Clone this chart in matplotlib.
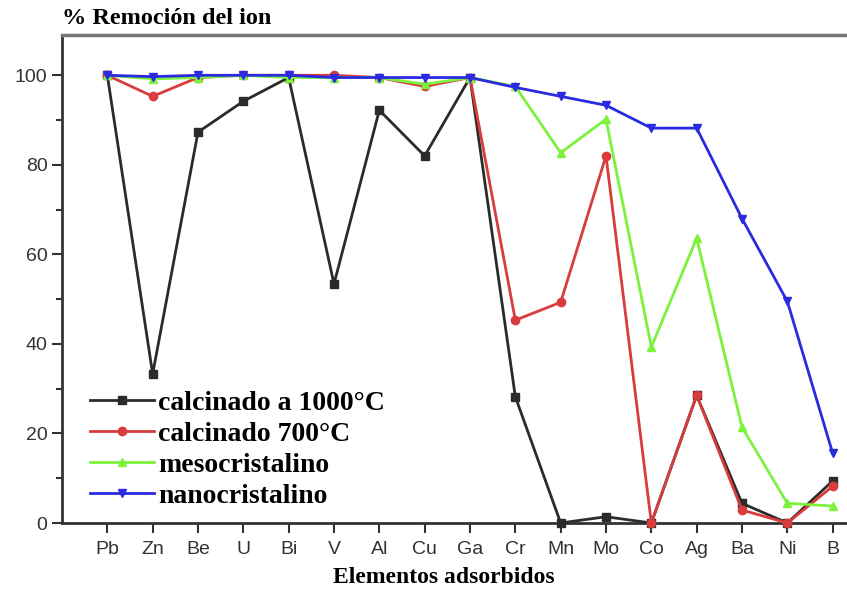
import numpy as np
import matplotlib.pyplot as plt

# elementos y % de remoción
elementos = ["Pb", "Zn", "Be", "U", "Bi", "V", "Al", "Cu", "Ga",
             "Cr", "Mn", "Mo", "Co", "Ag", "Ba", "Ni", "B"]
calc_1000 = [100, 33.3, 87.3, 94.2, 99.5, 53.4, 92.2, 82, 99.5,
             28.2, 0, 1.4, 0, 28.5, 4.4, 0, 9.4]
calc_700 = [100, 95.3, 99.5, 100, 100, 100, 99.5, 97.5, 99.5,
            45.3, 49.3, 82, 0, 28.5, 2.9, 0, 8.2]
meso = [100, 99.2, 99.5, 100, 99.5, 99.5, 99.5, 98, 99.5,
        97.5, 82.7, 90.2, 39.3, 63.6, 21.4, 4.4, 3.8]
nano = [100, 99.7, 100, 100, 100, 99.5, 99.5, 99.5, 99.5,
        97.3, 95.3, 93.3, 88.2, 88.2, 68, 49.5, 15.6]

series = [
    (calc_1000, "calcinado a 1000°C", "#2b2b2b", "s"),
    (calc_700, "calcinado 700°C", "#d83c3c", "o"),
    (meso, "mesocristalino", "#7cf23c", "^"),
    (nano, "nanocristalino", "#2a2ae0", "v"),
]

plt.rcParams['font.family'] = ['Liberation Sans', 'DejaVu Sans']
serif = ['Liberation Serif', 'DejaVu Serif']

fig = plt.figure(figsize=(8.47, 5.95), dpi=100)
ax = fig.add_axes([62 / 847, 72 / 595, 816 / 847, 488 / 595])

x = np.arange(len(elementos))
for vals, lab, col, mk in series:
    ax.plot(x, vals, color=col, marker=mk, markersize=6, linewidth=2,
            label=lab, clip_on=False, zorder=3)

ax.set_xlim(-1, 17)
ax.set_ylim(0, 109)
ax.set_xticks(x)
ax.set_xticklabels(elementos)
ax.set_yticks(np.arange(0, 101, 20))
ax.set_yticks(np.arange(10, 101, 20), minor=True)
ax.tick_params(axis='both', which='major', labelsize=14, labelcolor='#333333',
               length=7, width=1.5, color='#333333')
ax.tick_params(axis='x', which='major', pad=6)
ax.tick_params(axis='y', which='minor', length=4, width=1.5, color='#333333')

for s in ['left', 'bottom']:
    ax.spines[s].set_linewidth(2)
    ax.spines[s].set_color('#333333')
ax.spines['top'].set_linewidth(2.5)
ax.spines['top'].set_color('#777777')
ax.spines['right'].set_visible(False)

ax.set_xlabel("Elementos adsorbidos", family=serif, fontweight='bold',
              fontsize=17)
ax.xaxis.set_label_coords((444 - 62) / 816, -44 / 488)
fig.text(62 / 847, 1 - 19 / 595, "% Remoción del ion", family=serif,
         fontweight='bold', fontsize=17.5, va='center', ha='left')

ax.legend(loc='lower left', bbox_to_anchor=(28 / 816, 14 / 488),
          frameon=False, borderaxespad=0, borderpad=0,
          prop={'family': serif, 'weight': 'bold', 'size': 20},
          handlelength=2.3, handletextpad=0.15, labelspacing=0.2)

fig.savefig("out.png", dpi=100)
